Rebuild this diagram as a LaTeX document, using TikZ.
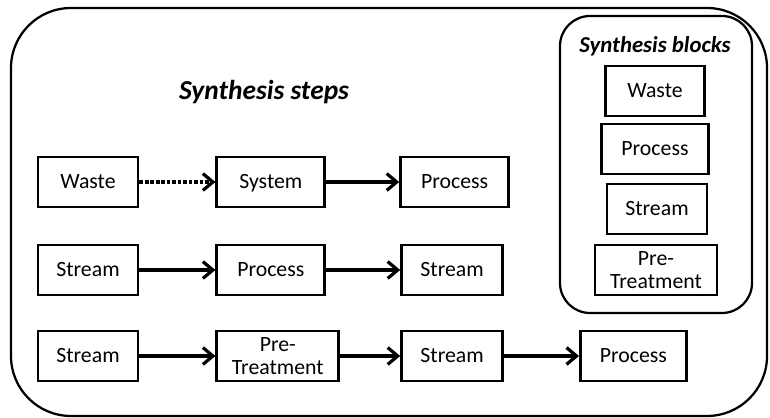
\documentclass[tikz,border=0pt]{standalone}
\usepackage{fontspec}
\setmainfont{Carlito}
\usepackage{tikz}
\usetikzlibrary{positioning,arrows.meta}
\tikzset{
  blk/.style={draw=black, line width=2pt, fill=white, align=center, inner sep=1pt,
    minimum height=1.25cm, minimum width=#1, text height=2.1ex, text depth=.3ex,
    font=\fontsize{15.5}{16.5}\selectfont},
  blk/.default={2.5cm},
  twoline/.style={text height=, text depth=},
  arrow/.style={-{Straight Barb[length=2.5mm, width=4.2mm]}, line width=2.3pt, draw=black},
  dotarrow/.style={arrow, dash pattern=on 2.6pt off 1.3pt},
  frame/.style={draw=black, line width=1.6pt, rounded corners=#1},
  frame/.default={1.5cm},
  heading/.style={font=\fontsize{#1}{#1}\selectfont\bfseries\itshape},
  heading/.default={19.5}
}

\begin{document}
\begin{tikzpicture}
  \useasboundingbox (0,0) rectangle (19.25,10.45);
  % outer frame and the block panel
  \draw[frame] (0.275,0.05) rectangle (19.175,10.25);
  \draw[frame=0.75cm] (14.0,2.625) rectangle (18.8,10.05);

  \node[heading] (steps) at (6.6,8.15) {Synthesis steps};
  \node[heading=16.2] (blocks) at (16.375,9.3) {Synthesis blocks};

  % first step
  \node[blk] (w1) at (2.2,5.9) {Waste};
  \node[blk=2.7cm, right=1.9cm of w1] (sy1) {System};
  \node[blk=2.7cm, right=1.825cm of sy1] (p1) {Process};
  \draw[dotarrow] (w1) -- (sy1);
  \draw[arrow] (sy1) -- (p1);

  % second step
  \node[blk] (s2) at (2.2,3.7) {Stream};
  \node[blk=2.7cm, right=1.9cm of s2] (p2) {Process};
  \node[blk=2.525cm, right=1.85cm of p2] (s2b) {Stream};
  \draw[arrow] (s2) -- (p2);
  \draw[arrow] (p2) -- (s2b);

  % third step
  \node[blk] (s3) at (2.2,1.55) {Stream};
  \node[blk=3.05cm, twoline, right=1.9cm of s3] (pt3) {Pre-\\Treatment};
  \node[blk=2.525cm, right=1.5cm of pt3] (s3b) {Stream};
  \node[blk=2.65cm, right=1.875cm of s3b] (p3) {Process};
  \draw[arrow] (s3) -- (pt3);
  \draw[arrow] (pt3) -- (s3b);
  \draw[arrow] (s3b) -- (p3);

  % blocks
  \node[blk=2.475cm] (bw) at (16.375,8.175) {Waste};
  \node[blk=2.675cm] (bp) at (16.375,6.725) {Process};
  \node[blk=2.5cm] (bs) at (16.425,5.225) {Stream};
  \node[blk=3.05cm, twoline] (bpt) at (16.4,3.7) {Pre-\\Treatment};
\end{tikzpicture}
\end{document}
